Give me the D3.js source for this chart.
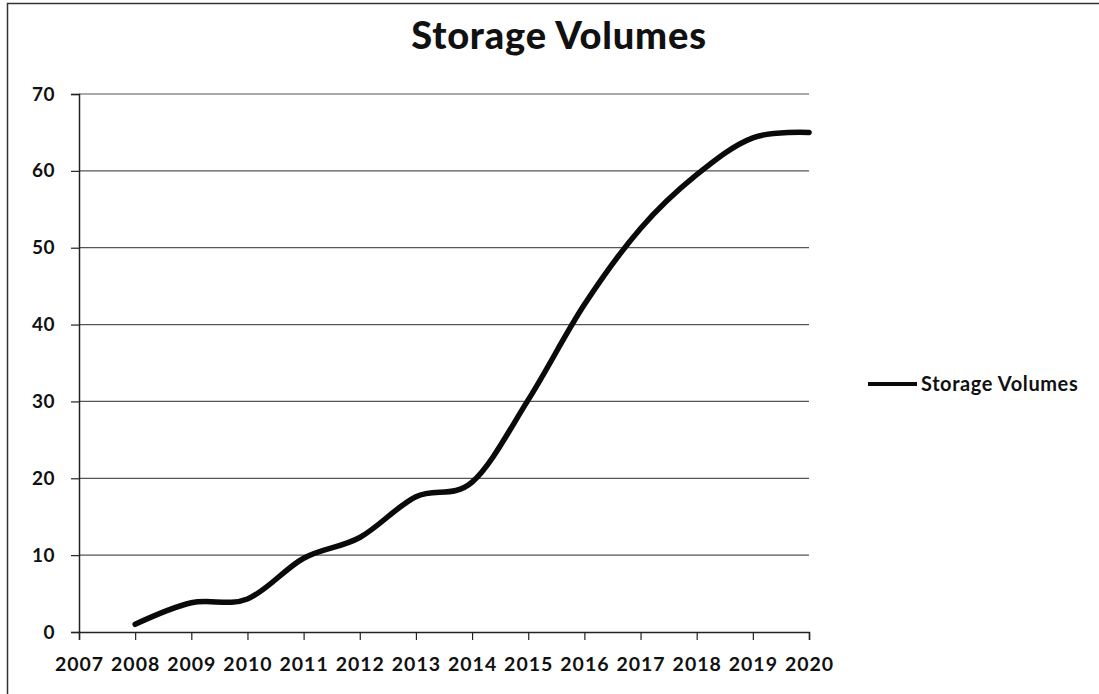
<!DOCTYPE html>
<html>
<head>
<meta charset="utf-8">
<script src="https://cdn.jsdelivr.net/npm/d3@7"></script>
<style>
  html, body { margin: 0; padding: 0; background: #fff; }
  svg { display: block; }
  text { font-family: Lato, "Open Sans", sans-serif; fill: #111; }
</style>
</head>
<body>
<svg id="chart" width="1099" height="694"></svg>
<script>
// Category axis labels (2007 has no observation)
const years = ["2007","2008","2009","2010","2011","2012","2013","2014","2015","2016","2017","2018","2019","2020"];
// Storage volume per year
const seriesYears = ["2008","2009","2010","2011","2012","2013","2014","2015","2016","2017","2018","2019","2020"];
const storageVolumes = [1, 3.8, 4.3, 9.6, 12.3, 17.6, 19.5, 30.2, 42.6, 52.5, 59.5, 64.3, 65];
const yTicks = [0, 10, 20, 30, 40, 50, 60, 70];
const seriesName = "Storage Volumes";
const chartTitle = "Storage Volumes";

const svg = d3.select("#chart");
const plot = { left: 79, right: 809, top: 94, bottom: 632 };

// chart frame
svg.append("rect")
  .attr("x", 7.5).attr("y", 3.5)
  .attr("width", 1200).attr("height", 800)
  .attr("fill", "none").attr("stroke", "#333").attr("stroke-width", 1.5);

const x = d3.scalePoint().domain(years).range([plot.left, plot.right]);
const y = d3.scaleLinear().domain([0, 70]).range([plot.bottom, plot.top]);

// horizontal gridlines
svg.append("g")
  .selectAll("line")
  .data(yTicks.filter(d => d > 0))
  .join("line")
  .attr("x1", plot.left).attr("x2", plot.right)
  .attr("y1", d => y(d)).attr("y2", d => y(d))
  .attr("stroke", "#555").attr("stroke-width", 1.2);

// y axis
const yAxis = svg.append("g")
  .attr("transform", `translate(${plot.left},0)`)
  .call(d3.axisLeft(y).tickValues(yTicks).tickSize(8).tickPadding(16));
yAxis.select(".domain").attr("stroke", "#222").attr("stroke-width", 1.5);
yAxis.selectAll(".tick line").attr("stroke", "#222").attr("stroke-width", 1.2);
yAxis.selectAll("text")
  .attr("font-size", 19).attr("font-weight", "bold")
  .attr("letter-spacing", 0.5)
  .attr("font-family", "Lato, sans-serif").attr("fill", "#111");

// x axis
const xAxis = svg.append("g")
  .attr("transform", `translate(0,${plot.bottom})`)
  .call(d3.axisBottom(x).tickSize(8).tickPadding(17));
xAxis.select(".domain").attr("stroke", "#222").attr("stroke-width", 1.5);
xAxis.selectAll(".tick line").attr("stroke", "#222").attr("stroke-width", 1.2);
xAxis.selectAll("text")
  .attr("font-size", 19.5).attr("font-weight", "bold")
  .attr("letter-spacing", 1)
  .attr("font-family", "Lato, sans-serif").attr("fill", "#111");

// smoothed series line
const line = d3.line()
  .x((d, i) => x(seriesYears[i]))
  .y(d => y(d))
  .curve(d3.curveCardinal.tension(0));

svg.append("path")
  .datum(storageVolumes)
  .attr("d", line)
  .attr("fill", "none")
  .attr("stroke", "#0a0a0a")
  .attr("stroke-width", 5.5)
  .attr("stroke-linecap", "round")
  .attr("stroke-linejoin", "round");

// title
svg.append("text")
  .attr("x", 559).attr("y", 49)
  .attr("text-anchor", "middle")
  .attr("font-size", 38).attr("font-weight", "900")
  .attr("letter-spacing", 0.8)
  .text(chartTitle);

// legend
const legend = svg.append("g");
legend.append("line")
  .attr("x1", 868).attr("x2", 917)
  .attr("y1", 384).attr("y2", 384)
  .attr("stroke", "#0a0a0a").attr("stroke-width", 4);
legend.append("text")
  .attr("x", 921).attr("y", 391)
  .attr("font-size", 20).attr("font-weight", "bold")
  .attr("letter-spacing", 0.6)
  .text(seriesName);
</script>
</body>
</html>
